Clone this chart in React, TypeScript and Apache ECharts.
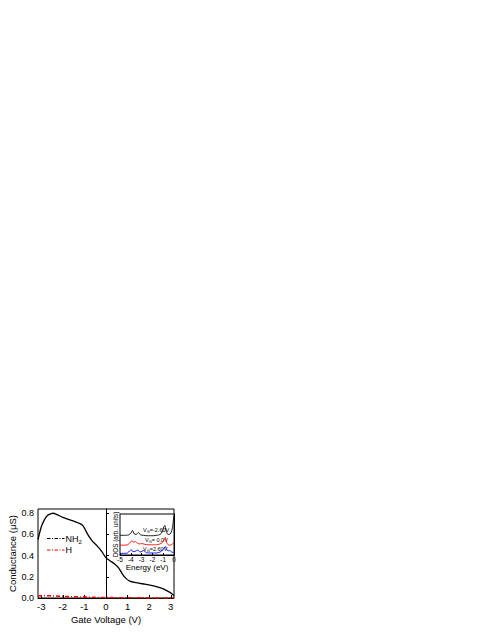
import React, { useEffect, useRef } from "react";
import * as echarts from "echarts";

// Main panel: conductance vs gate voltage
const gateV = [-3.15, -3.0, -2.85, -2.7, -2.55, -2.45, -2.3, -2.0, -1.7, -1.5, -1.3, -1.1, -1.0, -0.9, -0.75, -0.6, -0.4, -0.2, 0, 0.2, 0.4, 0.6, 0.75, 0.9, 1.1, 1.4, 1.8, 2.2, 2.6, 2.9, 3.05, 3.15];
const condNH2 = [0.55, 0.67, 0.74, 0.78, 0.795, 0.8, 0.79, 0.76, 0.74, 0.725, 0.71, 0.69, 0.66, 0.62, 0.57, 0.53, 0.49, 0.44, 0.38, 0.35, 0.32, 0.28, 0.23, 0.19, 0.16, 0.145, 0.13, 0.115, 0.09, 0.06, 0.04, 0.02];
const gateVH = [-3.15, -2.5, -2.0, -1.5, -1.0, -0.5, 0, 0.5, 1, 2, 3.15];
const condH = [0.022, 0.02, 0.016, 0.012, 0.009, 0.006, 0.004, 0.003, 0.002, 0.001, 0.0];
const xTicks = [-3, -2, -1, 0, 1, 2, 3];
const yTicks = [0, 0.2, 0.4, 0.6, 0.8];

// Inset: DOS vs energy
const energyA = [-5, -4.6, -4.2, -4.0, -3.85, -3.7, -3.5, -3.3, -3.1, -2.8, -2.5, -2.2, -1.9, -1.6, -1.3, -1.1, -0.95, -0.85, -0.75, -0.6, -0.45, -0.3, -0.2, -0.1, -0.03, 0];
const dosNeg = [0.48, 0.48, 0.49, 0.53, 0.6, 0.52, 0.5, 0.55, 0.49, 0.48, 0.47, 0.47, 0.47, 0.48, 0.5, 0.56, 0.68, 0.72, 0.6, 0.51, 0.5, 0.53, 0.6, 0.75, 0.92, 0.95];
const energyB = [-5, -4.6, -4.3, -4.1, -3.9, -3.75, -3.6, -3.4, -3.2, -3.0, -2.7, -2.4, -2.0, -1.6, -1.3, -1.1, -0.9, -0.8, -0.7, -0.55, -0.4, -0.25, -0.1, 0];
const dosZero = [0.24, 0.24, 0.25, 0.29, 0.35, 0.31, 0.33, 0.29, 0.27, 0.28, 0.26, 0.25, 0.25, 0.25, 0.27, 0.3, 0.38, 0.43, 0.32, 0.25, 0.24, 0.25, 0.28, 0.3];
const energyC = [-5, -4.6, -4.3, -4.1, -3.95, -3.8, -3.6, -3.35, -3.15, -2.95, -2.8, -2.6, -2.3, -2.0, -1.6, -1.3, -1.1, -0.9, -0.8, -0.7, -0.55, -0.4, -0.25, -0.1, 0];
const dosPos = [0.04, 0.04, 0.05, 0.1, 0.13, 0.08, 0.09, 0.12, 0.07, 0.09, 0.11, 0.06, 0.05, 0.05, 0.05, 0.07, 0.11, 0.17, 0.21, 0.15, 0.1, 0.11, 0.08, 0.06, 0.08];

const FONT = "Liberation Sans, Arial, sans-serif";

const pairs = (xs: number[], ys: number[]) => xs.map((x, i) => [x, ys[i]]);

export default function App() {
  const ref = useRef<HTMLDivElement>(null);
  useEffect(() => {
    if (!ref.current) return;
    const chart = echarts.init(ref.current, null, { renderer: "svg" });
    const axisLine = { show: true, lineStyle: { color: "#000", width: 1 } };
    const sub = { s: { fontSize: 4, padding: [3, 0, 0, 0], fontFamily: FONT } };
    chart.setOption({
      animation: false,
      backgroundColor: "#fff",
      textStyle: { fontFamily: FONT },
      grid: [
        { left: 38, top: 509, width: 136, height: 89, show: true, borderColor: "#000", borderWidth: 1, backgroundColor: "transparent", containLabel: false },
        { left: 120, top: 514, width: 54, height: 41, show: true, borderColor: "#000", borderWidth: 1, backgroundColor: "#fff", containLabel: false },
      ],
      xAxis: [
        {
          gridIndex: 0, type: "value", min: -3.15, max: 3.15,
          axisLine, splitLine: { show: false },
          axisTick: { inside: true, length: 3, customValues: xTicks, lineStyle: { color: "#000" } },
          axisLabel: { customValues: xTicks, color: "#000", fontSize: 9.5, margin: 3, fontFamily: FONT },
          name: "Gate Voltage (V)", nameLocation: "middle", nameGap: 16,
          nameTextStyle: { color: "#000", fontSize: 9.5, fontFamily: FONT },
        },
        {
          gridIndex: 1, type: "value", min: -5, max: 0, interval: 1,
          axisLine, splitLine: { show: false },
          axisTick: { inside: true, length: 2, lineStyle: { color: "#000" } },
          axisLabel: { color: "#000", fontSize: 6.5, margin: 1, fontFamily: FONT, showMinLabel: true, showMaxLabel: true },
          name: "Energy (eV)", nameLocation: "middle", nameGap: 8,
          nameTextStyle: { color: "#000", fontSize: 8, fontFamily: FONT },
        },
      ],
      yAxis: [
        {
          gridIndex: 0, type: "value", min: 0, max: 0.84,
          axisLine, splitLine: { show: false },
          axisTick: { inside: true, length: 3, customValues: yTicks, lineStyle: { color: "#000" } },
          axisLabel: { customValues: yTicks, color: "#000", fontSize: 9, margin: 4, fontFamily: FONT, formatter: (v: number) => v.toFixed(1) },
          name: "Conductance (\u03bcS)", nameLocation: "middle", nameGap: 18, nameRotate: 90,
          nameTextStyle: { color: "#000", fontSize: 9.5, fontFamily: FONT },
        },
        {
          gridIndex: 1, type: "value", min: 0, max: 1,
          axisLine, splitLine: { show: false },
          axisTick: { show: false }, axisLabel: { show: false },
          name: "DOS (arb. units)", nameLocation: "middle", nameGap: 2, nameRotate: 90,
          nameTextStyle: { color: "#000", fontSize: 6.3, fontFamily: FONT },
        },
      ],
      series: [
        {
          type: "line", xAxisIndex: 0, yAxisIndex: 0, data: pairs(gateV, condNH2),
          showSymbol: false, smooth: 0.3, lineStyle: { color: "#000", width: 1.3 },
          markLine: {
            silent: true, symbol: "none", label: { show: false },
            lineStyle: { color: "#000", type: [1, 2], width: 0.8 },
            data: [{ xAxis: 0 }],
          },
        },
        {
          type: "line", xAxisIndex: 0, yAxisIndex: 0, data: pairs(gateVH, condH),
          showSymbol: false, lineStyle: { color: "#f00", width: 1.5, type: [4, 2, 1, 2] },
        },
        {
          type: "line", xAxisIndex: 1, yAxisIndex: 1, data: pairs(energyA, dosNeg),
          showSymbol: false, smooth: 0.2, lineStyle: { color: "#000", width: 0.9 },
        },
        {
          type: "line", xAxisIndex: 1, yAxisIndex: 1, data: pairs(energyB, dosZero),
          showSymbol: false, smooth: 0.2, lineStyle: { color: "#f00", width: 0.9 },
        },
        {
          type: "line", xAxisIndex: 1, yAxisIndex: 1, data: pairs(energyC, dosPos),
          showSymbol: false, smooth: 0.2, lineStyle: { color: "#00f", width: 0.9 },
        },
      ],
      graphic: [
        { type: "line", shape: { x1: 47, y1: 538.5, x2: 64.5, y2: 538.5 }, style: { stroke: "#000", lineWidth: 1.2, lineDash: [3.5, 1.5, 1, 1.5] } },
        {
          type: "text", x: 65.5, y: 538.5,
          style: {
            text: "NH{s|2}", fill: "#000", fontSize: 9, fontFamily: FONT, verticalAlign: "middle",
            rich: { s: { fontSize: 6, padding: [6, 0, 0, 0], fontFamily: FONT } },
          },
        },
        { type: "line", shape: { x1: 47, y1: 550, x2: 64.5, y2: 550 }, style: { stroke: "#f00", lineWidth: 1.2, lineDash: [3.5, 1.5, 1, 1.5] } },
        { type: "text", x: 65.5, y: 550, style: { text: "H", fill: "#000", fontSize: 9, fontFamily: FONT, verticalAlign: "middle" } },
        { type: "text", x: 143, y: 530, style: { text: "V{s|G}=-2.60V", fill: "#000", fontSize: 5.5, fontFamily: FONT, verticalAlign: "middle", rich: sub } },
        { type: "text", x: 145, y: 539.5, style: { text: "V{s|G}= 0.0V", fill: "#000", fontSize: 5.5, fontFamily: FONT, verticalAlign: "middle", rich: sub } },
        { type: "text", x: 143, y: 549, style: { text: "V{s|G}=2.60V", fill: "#000", fontSize: 5.5, fontFamily: FONT, verticalAlign: "middle", rich: sub } },
      ],
    });
    return () => chart.dispose();
  }, []);
  return <div ref={ref} style={{ position: "fixed", left: 0, top: 0, width: 491, height: 635 }} />;
}
